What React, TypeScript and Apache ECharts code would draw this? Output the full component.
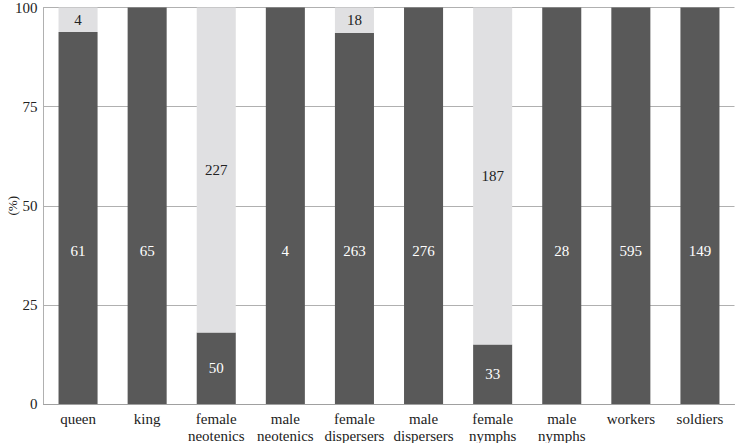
import React, { useEffect, useRef } from "react";
import * as echarts from "echarts";

const categories = [
  "queen",
  "king",
  "female\nneotenics",
  "male\nneotenics",
  "female\ndispersers",
  "male\ndispersers",
  "female\nnymphs",
  "male\nnymphs",
  "workers",
  "soldiers",
];
const darkCounts = [61, 65, 50, 4, 263, 276, 33, 28, 595, 149];
const lightCounts = [4, 0, 227, 0, 18, 0, 187, 0, 0, 0];
const yTicks = [0, 25, 50, 75, 100];

const FONT = "Liberation Serif";

export default function App() {
  const ref = useRef<HTMLDivElement>(null);
  useEffect(() => {
    if (!ref.current) return;
    const chart = echarts.init(ref.current, null, { renderer: "svg" });
    const totals = darkCounts.map((d, i) => d + lightCounts[i]);
    const darkPct = darkCounts.map((d, i) => (d / totals[i]) * 100);
    const lightPct = lightCounts.map((l, i) => (l / totals[i]) * 100);

    const darkData = darkPct.map((v) => {
      const tall = v > 50;
      return {
        value: v,
        label: tall
          ? { position: "insideBottom" as const, distance: 146 }
          : { position: "inside" as const },
      };
    });
    const lightData = lightPct.map((v) => ({
      value: v,
      label: { show: v > 0 },
    }));

    chart.setOption({
      animation: false,
      textStyle: { fontFamily: FONT },
      grid: {
        left: 43.5,
        right: 0.5,
        top: 7.5,
        bottom: 39,
        containLabel: false,
        outerBoundsMode: "none",
      },
      xAxis: {
        type: "category",
        data: categories,
        axisLine: { lineStyle: { color: "#a0a0a0", width: 1 } },
        axisTick: { show: false },
        axisLabel: {
          color: "#222",
          fontSize: 15,
          fontFamily: FONT,
          lineHeight: 17,
          margin: 6,
          interval: 0,
        },
      },
      yAxis: {
        type: "value",
        min: yTicks[0],
        max: yTicks[yTicks.length - 1],
        interval: 25,
        name: "(%)",
        nameLocation: "middle",
        nameGap: 25,
        nameRotate: 90,
        nameMoveOverlap: false,
        nameTextStyle: { color: "#222", fontSize: 13, fontFamily: FONT },
        axisLine: { show: true, lineStyle: { color: "#b0b0b0", width: 1 } },
        axisTick: { show: false },
        splitLine: { lineStyle: { color: "#b0b0b0", width: 1 } },
        axisLabel: { color: "#222", fontSize: 15, fontFamily: FONT, margin: 6 },
      },
      series: [
        {
          type: "bar",
          stack: "s",
          data: darkData,
          barCategoryGap: "43.5%",
          itemStyle: { color: "#595959" },
          label: {
            show: true,
            color: "#ffffff",
            fontSize: 15,
            fontFamily: FONT,
            formatter: (p: any) => String(darkCounts[p.dataIndex]),
          },
        },
        {
          type: "bar",
          stack: "s",
          data: lightData,
          barCategoryGap: "43.5%",
          itemStyle: { color: "#e0e0e2" },
          label: {
            position: "inside",
            color: "#222",
            fontSize: 15,
            fontFamily: FONT,
            formatter: (p: any) => String(lightCounts[p.dataIndex]),
          },
        },
      ],
    });
    return () => chart.dispose();
  }, []);
  return <div ref={ref} style={{ width: 735, height: 443, position: "absolute", left: 0, top: 0 }} />;
}
